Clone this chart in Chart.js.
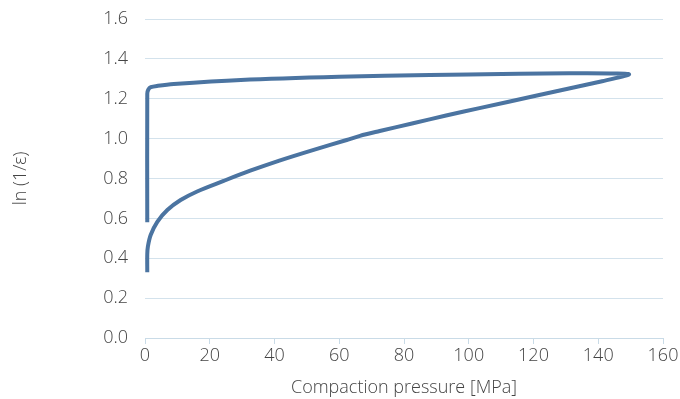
<!DOCTYPE html>
<html>
<head>
<meta charset="utf-8">
<script src="https://cdn.jsdelivr.net/npm/chart.js@4/dist/chart.umd.min.js"></script>
<style>
html,body{margin:0;padding:0;background:#fff;}
#wrap{width:680px;height:399px;position:relative;}
</style>
</head>
<body>
<div id="wrap"><canvas id="c" width="680" height="399"></canvas></div>
<script>
const pressure = [0.7,0.7,0.9,1.75,3.8,6.9,11,16.1,24.3,32.5,41.5,52.1,62.3,66.4,72.5,82.8,93,103.3,120.7,141.2,149.5,146,131,100,88,60,29.6,8.9,4,1.8,1.0,0.7,0.7];
const lnInvEps = [0.33,0.42,0.46,0.517,0.583,0.642,0.692,0.735,0.788,0.839,0.89,0.944,0.993,1.014,1.038,1.077,1.116,1.153,1.215,1.288,1.322,1.327,1.328,1.322,1.319,1.31,1.294,1.274,1.265,1.258,1.245,1.225,0.58];
const xTicks = [0,20,40,60,80,100,120,140,160];
const yTicks = [0.0,0.2,0.4,0.6,0.8,1.0,1.2,1.4,1.6];

const pts = pressure.map((x,i)=>({x:x,y:lnInvEps[i]}));
const font = {family:"'Open Sans'", size:18, weight:300};
new Chart(document.getElementById('c'),{
  type:'scatter',
  data:{datasets:[{data:pts,showLine:true,borderColor:'#4b74a1',borderWidth:4,pointRadius:0,tension:0.3,fill:false,borderCapStyle:'butt',borderJoinStyle:'round'}]},
  options:{
    responsive:false,animation:false,
    layout:{padding:{left:0,right:17,top:0,bottom:0}},
    plugins:{legend:{display:false},tooltip:{enabled:false}},
    scales:{
      x:{type:'linear',min:0,max:160,
        afterBuildTicks:s=>{s.ticks=xTicks.map(v=>({value:v}));},
        afterFit:s=>{s.height=61;s.paddingLeft=0;s.paddingRight=0;},
        grid:{drawOnChartArea:false,drawTicks:true,tickLength:6,color:'#c9dbe7'},
        border:{display:true,color:'#c9dbe7'},
        ticks:{font:font,color:'#444',padding:1,maxRotation:0},
        title:{display:true,text:'Compaction pressure [MPa]',font:font,color:'#444',padding:{top:4,bottom:0}}
      },
      y:{type:'linear',min:0,max:1.6,
        afterBuildTicks:s=>{s.ticks=yTicks.map(v=>({value:v}));},
        afterFit:s=>{s.width=145;s.paddingTop=19;s.paddingBottom=0;},
        grid:{drawTicks:false,color:'#d3e2ec',lineWidth:1},
        border:{display:false},
        ticks:{font:font,color:'#444',padding:17,callback:v=>v.toFixed(1)},
        title:{display:true,text:'ln (1/ε)',font:font,color:'#444',padding:{top:10,bottom:0}}
      }
    }
  }
});
</script>
</body>
</html>
